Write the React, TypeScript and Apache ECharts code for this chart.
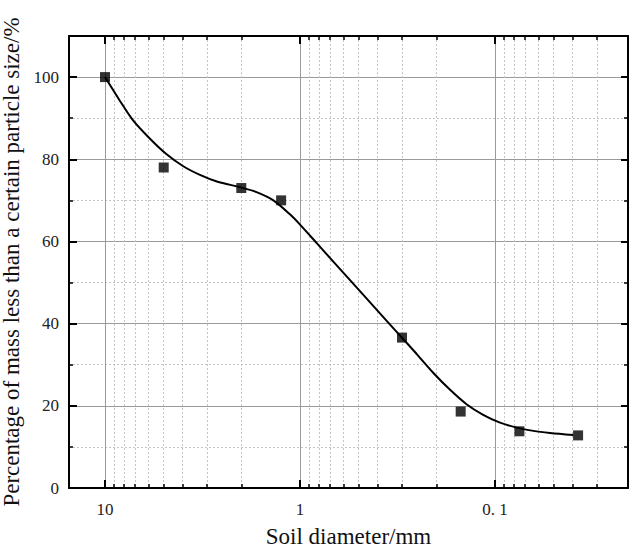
import React, { useEffect, useRef } from "react";
import * as echarts from "echarts";

// Measured points: soil diameter (mm) and percentage passing (%)
const diameters = [10, 5, 2, 1.25, 0.3, 0.15, 0.075, 0.0375];
const percents = [100, 78, 73, 70, 36.6, 18.6, 13.8, 12.8];

// Fitted curve
const curveD = [10, 8.38, 7.16, 5.88, 4.83, 3.97, 3.26, 2.67, 1.99, 1.67, 1.37, 1.126, 1, 0.821, 0.675, 0.554, 0.455, 0.374, 0.307, 0.252, 0.207, 0.17, 0.14, 0.115, 0.0943, 0.0774, 0.0636, 0.0522, 0.0397];
const curveP = [100, 94.2, 89.4, 85.0, 81.2, 78.3, 76.2, 74.6, 73.1, 72.0, 70.0, 66.6, 64.1, 59.6, 55.1, 50.6, 46.1, 41.6, 37.1, 32.6, 28.0, 23.9, 20.4, 17.8, 15.9, 14.7, 13.9, 13.4, 12.9];

// Axis ticks
const xMajorValues = [10, 1, 0.1];
const xMajorLabels = ["10", "1", "0. 1"];
const xMinorValues = [9, 8, 7, 6, 5, 4, 3, 2, 0.9, 0.8, 0.7, 0.6, 0.5, 0.4, 0.3, 0.2, 0.09, 0.08, 0.07, 0.06, 0.05, 0.04, 0.03];
const xMin = 0.0208;
const xMax = 15.3;
const yMin = 0;
const yMax = 110;
const yInterval = 20;

const xName = "Soil diameter/mm";
const yName = "Percentage of mass less than a certain particle size/%";

const FONT = "'Liberation Serif', 'Times New Roman', serif";

export default function App() {
  const ref = useRef<HTMLDivElement>(null);
  useEffect(() => {
    document.body.style.margin = "0";
    const chart = echarts.init(ref.current!, null, { renderer: "svg" });
    const baseX = {
      type: "log" as const,
      min: xMin,
      max: xMax,
      inverse: true,
      logBase: 10,
    };
    const option: any = {
      animation: false,
      backgroundColor: "#ffffff",
      grid: { left: 69, right: 4, top: 36, bottom: 63, containLabel: false, outerBoundsMode: "none" },
      xAxis: [
        {
          ...baseX,
          position: "bottom",
          name: xName,
          nameLocation: "middle",
          nameGap: 37,
          nameTextStyle: { fontFamily: FONT, fontSize: 23, color: "#111" },
          axisLine: { onZero: false, lineStyle: { color: "#000", width: 2 } },
          axisTick: { inside: true, length: 8, customValues: xMajorValues, lineStyle: { color: "#000", width: 2 } },
          axisLabel: {
            customValues: xMajorValues,
            margin: 13,
            fontFamily: FONT,
            fontSize: 17,
            color: "#222",
            formatter: (v: number) => {
              const i = xMajorValues.findIndex((m) => Math.abs(m - v) < 1e-9 * Math.max(1, m));
              return i >= 0 ? xMajorLabels[i] : "";
            },
          },
          splitLine: { show: true, lineStyle: { color: "#9a9a9a", width: 1 } },
        },
        {
          ...baseX,
          position: "bottom",
          axisLine: { show: false, onZero: false },
          axisTick: { inside: true, length: 4, customValues: xMinorValues, lineStyle: { color: "#000", width: 1.5 } },
          axisLabel: { show: false },
          splitLine: { show: true, lineStyle: { color: "#c4c4c4", width: 1, type: [2, 2] } },
        },
        {
          ...baseX,
          position: "top",
          axisLine: { onZero: false, lineStyle: { color: "#000", width: 2 } },
          axisTick: { inside: true, length: 8, customValues: xMajorValues, lineStyle: { color: "#000", width: 2 } },
          axisLabel: { show: false },
          splitLine: { show: false },
        },
        {
          ...baseX,
          position: "top",
          axisLine: { show: false, onZero: false },
          axisTick: { inside: true, length: 4, customValues: xMinorValues, lineStyle: { color: "#000", width: 1.5 } },
          axisLabel: { show: false },
          splitLine: { show: false },
        },
      ],
      yAxis: [
        {
          type: "value",
          position: "left",
          min: yMin,
          max: yMax,
          interval: yInterval,
          name: yName,
          nameLocation: "middle",
          nameGap: 36,
          nameTextStyle: { fontFamily: FONT, fontSize: 23, color: "#111" },
          axisLine: { onZero: false, lineStyle: { color: "#000", width: 2 } },
          axisTick: { inside: true, length: 8, lineStyle: { color: "#000", width: 2 } },
          minorTick: { show: true, splitNumber: 2, length: 4, lineStyle: { color: "#000", width: 1.5 } },
          axisLabel: { margin: 10, fontFamily: FONT, fontSize: 17, color: "#222", showMaxLabel: false },
          splitLine: { show: true, lineStyle: { color: "#9a9a9a", width: 1 } },
          minorSplitLine: { show: true, lineStyle: { color: "#c4c4c4", width: 1, type: [2, 2] } },
        },
        {
          type: "value",
          position: "right",
          min: yMin,
          max: yMax,
          interval: yInterval,
          axisLine: { show: true, onZero: false, lineStyle: { color: "#000", width: 2 } },
          axisTick: { inside: true, length: 7, lineStyle: { color: "#000", width: 2 } },
          minorTick: { show: true, splitNumber: 2, length: 4, lineStyle: { color: "#000", width: 1.5 } },
          axisLabel: { show: false },
          splitLine: { show: false },
        },
      ],
      series: [
        {
          type: "line",
          xAxisIndex: 0,
          yAxisIndex: 0,
          data: curveD.map((d, i) => [d, curveP[i]]),
          smooth: 0.3,
          showSymbol: false,
          symbol: "none",
          lineStyle: { color: "#000", width: 2 },
          z: 3,
        },
        {
          type: "scatter",
          xAxisIndex: 0,
          yAxisIndex: 0,
          data: diameters.map((d, i) => [d, percents[i]]),
          symbol: "rect",
          symbolSize: 10,
          itemStyle: { color: "#000" },
          z: 4,
        },
      ],
    };
    chart.setOption(option);
    return () => chart.dispose();
  }, []);
  return <div ref={ref} style={{ width: 632, height: 551 }} />;
}
